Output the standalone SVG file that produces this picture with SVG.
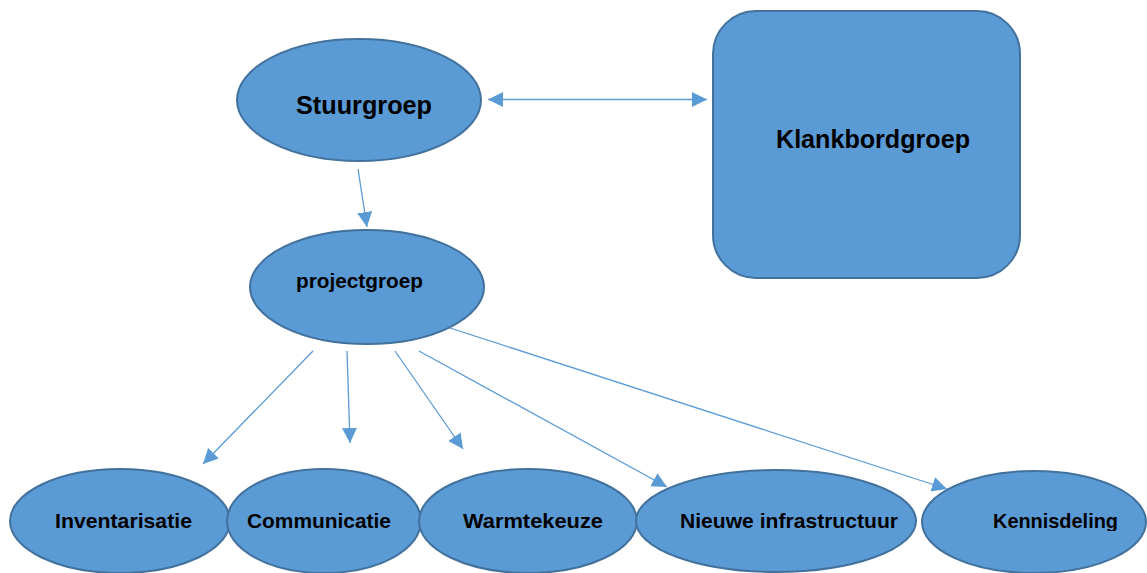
<svg xmlns="http://www.w3.org/2000/svg" width="1147" height="573" viewBox="0 0 1147 573">
<style>
.n{fill:#5B9BD5;stroke:#41719C;stroke-width:2}
.t{font-family:"Liberation Sans",Arial,sans-serif;font-weight:bold;fill:#000;text-anchor:start}
.c{stroke:#5B9BD5;stroke-width:1.3;fill:none;marker-end:url(#ah)}
</style>
<defs>
<marker id="ah" markerUnits="userSpaceOnUse" markerWidth="16" markerHeight="16" refX="15" refY="7.5" orient="auto-start-reverse" viewBox="0 0 16 16">
<path d="M0,0 L15,7.5 L0,15 z" fill="#5B9BD5"/>
</marker>
<clipPath id="kclip"><rect x="900" y="440" width="247" height="91"/></clipPath>
</defs>
<rect width="1147" height="573" fill="#fff"/>
<g id="stuurgroep">
<ellipse class="n" cx="359" cy="100" rx="122" ry="61"/>
<text class="t" x="296" y="114" font-size="25" textLength="136" lengthAdjust="spacingAndGlyphs">Stuurgroep</text>
</g>
<g id="klankbordgroep">
<rect class="n" x="713" y="11" width="307" height="267" rx="43" ry="43"/>
<text class="t" x="776" y="148" font-size="25" textLength="194" lengthAdjust="spacingAndGlyphs">Klankbordgroep</text>
</g>
<g id="projectgroep">
<ellipse class="n" cx="367" cy="287" rx="117" ry="57"/>
<text class="t" x="296" y="288" font-size="21" textLength="127" lengthAdjust="spacingAndGlyphs">projectgroep</text>
</g>
<g id="inventarisatie">
<ellipse class="n" cx="120" cy="521" rx="110" ry="52"/>
<text class="t" x="55" y="528" font-size="21" textLength="137" lengthAdjust="spacingAndGlyphs">Inventarisatie</text>
</g>
<g id="communicatie">
<ellipse class="n" cx="324" cy="521" rx="97" ry="52"/>
<text class="t" x="247" y="528" font-size="21" textLength="144" lengthAdjust="spacingAndGlyphs">Communicatie</text>
</g>
<g id="warmtekeuze">
<ellipse class="n" cx="528" cy="521" rx="109" ry="52"/>
<text class="t" x="463" y="528" font-size="21" textLength="140" lengthAdjust="spacingAndGlyphs">Warmtekeuze</text>
</g>
<g id="nieuwe-infrastructuur">
<ellipse class="n" cx="776" cy="521" rx="140" ry="51"/>
<text class="t" x="680" y="528" font-size="21" textLength="218" lengthAdjust="spacingAndGlyphs">Nieuwe infrastructuur</text>
</g>
<g id="kennisdeling">
<ellipse class="n" cx="1034" cy="522" rx="112" ry="51"/>
<text class="t" x="993" y="528" font-size="21" textLength="125" lengthAdjust="spacingAndGlyphs" clip-path="url(#kclip)">Kennisdeling</text>
</g>
<g id="connectors">
<line class="c" x1="488" y1="99.5" x2="707" y2="99.5" style="marker-start:url(#ah)"/>
<line class="c" x1="358" y1="169" x2="367" y2="227"/>
<line class="c" x1="313" y1="351" x2="203" y2="464"/>
<line class="c" x1="347" y1="351" x2="350" y2="443"/>
<line class="c" x1="395" y1="351" x2="463" y2="449"/>
<line class="c" x1="419" y1="351" x2="667" y2="487"/>
<line class="c" x1="450" y1="328" x2="947" y2="489"/>
</g>
</svg>
